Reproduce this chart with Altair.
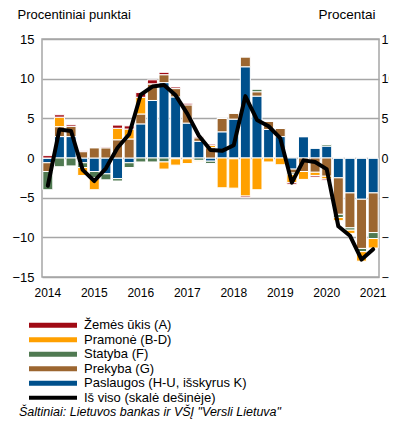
import altair as alt
import pandas as pd

quarters = ["2014 Q1", "2014 Q2", "2014 Q3", "2014 Q4",
            "2015 Q1", "2015 Q2", "2015 Q3", "2015 Q4",
            "2016 Q1", "2016 Q2", "2016 Q3", "2016 Q4",
            "2017 Q1", "2017 Q2", "2017 Q3", "2017 Q4",
            "2018 Q1", "2018 Q2", "2018 Q3", "2018 Q4",
            "2019 Q1", "2019 Q2", "2019 Q3", "2019 Q4",
            "2020 Q1", "2020 Q2", "2020 Q3", "2020 Q4",
            "2021 Q1"]

paslaugos = [-0.6, 2.7, 2.7, -0.6, -1.7, -2.0, -2.6, -0.6, 4.3, 7.25, 9.5, 7.7, 4.4, 2.1, -0.4,
             3.3, 4.9, 11.5, 7.8, 3.6, 2.7, -1.4, 2.7, 1.25, 1.5, -2.5, -4.4, -5.2, -4.4]
prekyba = [-1.1, 1.25, 1.3, 0.8, 1.3, 1.3, 2.3, 2.4, 1.25, 2.1, 1.0, 1.05, 2.3, 0.45, 1.3,
           1.7, 0.75, 1.25, 0.55, 1.0, 1.05, -0.5, -1.7, -1.8, -2.3, -4.6, -4.4, -6.2, -5.0]
statyba = [-2.3, -1.1, -1.0, -0.6, -0.8, -0.75, -0.3, -0.6, -0.5, -0.5, -0.5, -0.1, -0.1, -0.3, -0.3,
           0.0, -0.1, 0.0, 0.35, 0.0, 0.0, -0.2, 0.0, 0.0, 0.2, -0.4, -0.3, -0.4, -0.75]
pramone = [0.0, 1.2, 0.0, -1.0, -1.5, 0.0, 1.45, 1.25, 2.1, 0.0, -0.9, -0.8, -0.6, -0.1, 0.3,
           -3.75, -3.7, -4.8, -4.0, -0.5, -0.85, -1.0, -1.0, -0.4, -0.35, -0.4, -0.4, -1.2, -1.2]
zemes_ukis = [0.3, 0.3, 0.2, 0.1, 0.0, 0.15, 0.4, 0.4, 0.6, 0.5, 0.3, 0.2, 0.2, 0.15, 0.15,
              0.0, 0.0, -0.2, 0.0, 0.0, 0.0, -0.2, 0.0, -0.2, -0.15, 0.0, 0.0, 0.0, 0.0]
is_viso = [-3.5, 3.6, 3.4, -1.5, -2.9, -1.3, 1.3, 3.0, 8.0, 9.0, 9.2, 7.9, 5.6, 2.8, 1.0,
           0.9, 1.6, 7.8, 4.8, 4.0, 2.5, -3.1, -0.3, -0.5, -1.4, -8.6, -9.8, -12.8, -11.5]

sectors = ["Paslaugos (H-U, išskyrus K)", "Prekyba (G)", "Statyba (F)", "Pramonė (B-D)", "Žemės ūkis (A)"]
sector_values = [paslaugos, prekyba, statyba, pramone, zemes_ukis]
sector_colors = ["#00508C", "#9C6630", "#507A52", "#FFA000", "#A00A14"]

legend_names = ["Žemės ūkis (A)", "Pramonė (B-D)", "Statyba (F)", "Prekyba (G)",
                "Paslaugos (H-U, išskyrus K)", "Iš viso (skalė dešinėje)"]
legend_colors = ["#A00A14", "#FFA000", "#507A52", "#9C6630", "#00508C", "#000000"]
legend_widths = [5, 5, 5, 5, 5, 4]
source_text = "Šaltiniai: Lietuvos bankas ir VŠĮ \"Versli Lietuva\""
y_ticks = [-15, -10, -5, 0, 5, 10, 15]

rows = []
for si, (name, vals) in enumerate(zip(sectors, sector_values)):
    for q, v in zip(quarters, vals):
        rows.append({"q": q, "s": name, "v": v, "o": si})
df = pd.DataFrame(rows)
df_line = pd.DataFrame({"q": quarters, "v": is_viso})

FONT = "Liberation Sans"

xenc = alt.X("q:N", sort=quarters,
             scale=alt.Scale(paddingInner=0.14, paddingOuter=0.07),
             axis=alt.Axis(title=None, labelAngle=0, ticks=False, domain=False, labelPadding=10,
                           labelFontSize=12,
                           labelExpr="substring(datum.label, 5, 7) == 'Q1' ? substring(datum.label, 0, 4) : ''"))

bars = alt.Chart(df).mark_bar(stroke="white", strokeWidth=1).encode(
    x=xenc,
    y=alt.Y("v:Q", stack="zero", scale=alt.Scale(domain=[-15, 15], nice=False),
            axis=alt.Axis(values=y_ticks, title="Procentiniai punktai", titleAngle=0,
                          titleX=-25, titleY=-21, titleAlign="left", titleBaseline="alphabetic",
                          ticks=False, labelPadding=8, grid=True, domain=False)),
    color=alt.Color("s:N", scale=alt.Scale(domain=sectors, range=sector_colors), legend=None),
    order=alt.Order("o:Q", sort="ascending"),
)

line = alt.Chart(df_line).mark_line(color="black", strokeWidth=4, strokeJoin="round", strokeCap="round").encode(
    x=alt.X("q:N", sort=quarters),
    y=alt.Y("v:Q", scale=alt.Scale(domain=[-15, 15], nice=False),
            axis=alt.Axis(orient="right", values=y_ticks, title="Procentai", titleAngle=0,
                          titleX=-4, titleY=-21, titleAlign="right", titleBaseline="alphabetic",
                          titleFontSize=13.5, labelFontSize=12.5,
                          grid=False, ticks=False, labelPadding=2, domain=False)),
)

main = alt.layer(bars, line).resolve_scale(y="independent").properties(width=337, height=238)

leg_df = pd.DataFrame({"name": legend_names, "col": legend_colors, "w": legend_widths})
leg_y = alt.Y("name:N", sort=legend_names, axis=None)
swatches = alt.Chart(leg_df).mark_rule(strokeCap="butt").encode(
    y=leg_y, x=alt.value(-13), x2=alt.value(35),
    color=alt.Color("col:N", scale=None),
    strokeWidth=alt.StrokeWidth("w:Q", scale=None),
)
labels = alt.Chart(leg_df).mark_text(align="left", baseline="middle", fontSize=13, font=FONT).encode(
    y=leg_y, x=alt.value(42), text="name:N")
source = alt.Chart(pd.DataFrame({"t": [source_text]})).mark_text(
    align="left", baseline="middle", fontSize=12.5, fontStyle="italic", font=FONT).encode(
    x=alt.value(-23), y=alt.value(93.5), text="t:N")
legend = alt.layer(swatches, labels, source).properties(
    width=300, height=87, view=alt.ViewBackground(stroke="transparent"))

chart = alt.vconcat(main, legend, spacing=18).properties(
    padding={"left": 3, "top": -2, "right": -14, "bottom": 0}
).configure_view(stroke="#A6A6A6", strokeWidth=1.5).configure_axis(
    labelFont=FONT, labelFontSize=13, labelColor="#000000",
    titleFont=FONT, titleFontSize=13, titleFontWeight="normal", titleColor="#000000",
    gridColor="#A6A6A6", gridWidth=1.5, gridOpacity=1,
)

chart.save("out.html", embed_options={"renderer": "svg", "actions": False})
